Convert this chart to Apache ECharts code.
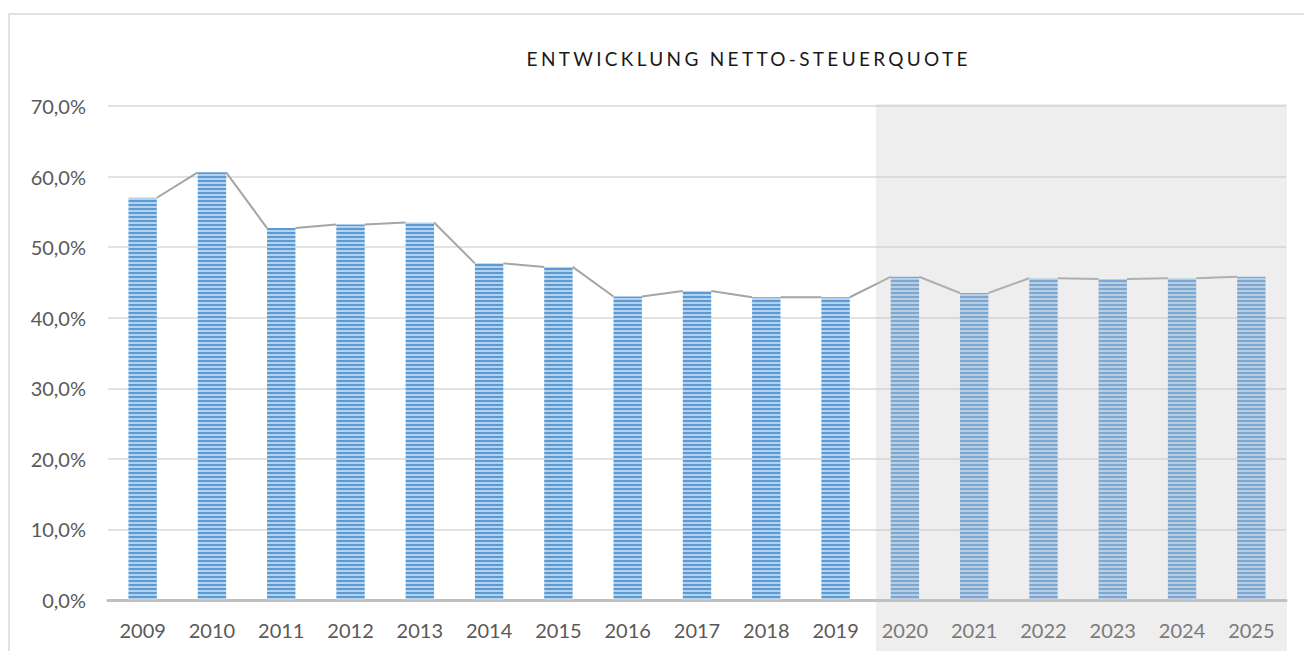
<!DOCTYPE html>
<html>
<head>
<meta charset="utf-8">
<script src="https://cdn.jsdelivr.net/npm/echarts@6/dist/echarts.min.js"></script>
<style>
html,body{margin:0;padding:0;background:#fff;}
#chart{width:1304px;height:651px;}
</style>
</head>
<body>
<div id="chart"></div>
<script>
const titleText = 'ENTWICKLUNG NETTO-STEUERQUOTE';
const years = ['2009','2010','2011','2012','2013','2014','2015','2016','2017','2018','2019','2020','2021','2022','2023','2024','2025'];
const quote = [57.0, 60.6, 52.7, 53.2, 53.5, 47.7, 47.2, 43.0, 43.8, 42.9, 42.9, 45.8, 43.5, 45.6, 45.5, 45.6, 45.8];
const yTicks = [0, 10, 20, 30, 40, 50, 60, 70];

const FONT = 'Lato';
const TITLE_SIZE = 19;
const TITLE_CENTER = 742;
const TITLE_WIDTH = 441;

// striped fill
const pc = document.createElement('canvas');
pc.width = 8; pc.height = 4;
const pctx = pc.getContext('2d');
pctx.fillStyle = '#5b9bd5'; pctx.fillRect(0,0,8,2);
pctx.fillStyle = '#b4d2ee'; pctx.fillRect(0,2,8,2);
const stripe = { image: pc.toDataURL(), repeat: 'repeat' };

const lineData = quote.slice(0, -1).map((v, i) => [i, v, quote[i + 1]]);

const mctx = document.createElement('canvas').getContext('2d');
mctx.font = TITLE_SIZE + 'px ' + FONT;
const naturalW = mctx.measureText(titleText).width;
const ls = Math.max(0, (TITLE_WIDTH - naturalW) / (titleText.length - 1));

const chart = echarts.init(document.getElementById('chart'), null, { renderer: 'svg' });

function spaceTitle() {
  document.querySelectorAll('#chart text').forEach(t => {
    if (t.textContent.trim() === titleText && !t.dataset.spaced) {
      t.dataset.spaced = '1';
      t.style.letterSpacing = ls.toFixed(2) + 'px';
      const x = parseFloat(t.getAttribute('x') || 0);
      t.setAttribute('x', (x - ls * (titleText.length - 1) / 2).toFixed(1));
    }
  });
}
chart.on('finished', spaceTitle);

chart.setOption({
  animation: false,
  backgroundColor: '#ffffff',
  title: {
    text: titleText,
    left: Math.round(TITLE_CENTER - naturalW / 2),
    top: 44,
    textAlign: 'left',
    textStyle: { fontFamily: FONT, fontSize: TITLE_SIZE, fontWeight: 'normal', color: '#1a1a1a' }
  },
  grid: { left: 108, right: 18, top: 106, bottom: 51, containLabel: false },
  xAxis: {
    type: 'category',
    data: years,
    axisLine: { lineStyle: { color: '#bfbfbf', width: 3 } },
    axisTick: { show: false },
    axisLabel: { fontFamily: FONT, fontSize: 20, color: '#595959', margin: 20 }
  },
  yAxis: {
    type: 'value',
    min: yTicks[0],
    max: yTicks[yTicks.length - 1],
    interval: 10,
    axisLine: { show: false },
    axisTick: { show: false },
    splitLine: { lineStyle: { color: '#d9d9d9', width: 1.5 } },
    axisLabel: {
      fontFamily: FONT, fontSize: 20, color: '#595959', margin: 22,
      formatter: v => v.toFixed(1).replace('.', ',') + '%'
    }
  },
  series: [
    {
      type: 'custom',
      data: lineData,
      z: 1,
      renderItem: function (params, api) {
        const i = api.value(0);
        const p1 = api.coord([i, api.value(1)]);
        const p2 = api.coord([i + 1, api.value(2)]);
        const bw = api.size([1, 0])[0] * 0.41;
        return {
          type: 'line',
          shape: { x1: p1[0] + bw / 2, y1: p1[1], x2: p2[0] - bw / 2, y2: p2[1] },
          style: { stroke: '#a5a5a5', lineWidth: 2 }
        };
      }
    },
    {
      type: 'bar',
      data: quote,
      barWidth: '41%',
      z: 2,
      itemStyle: { color: stripe }
    }
  ],
  graphic: [
    {
      type: 'rect',
      z: -1,
      shape: { x: 9, y: 14, width: 1400, height: 800 },
      style: { fill: 'none', stroke: '#d9d9d9', lineWidth: 1.5 }
    },
    {
      type: 'rect',
      z: 100,
      shape: { x: 876, y: 104, width: 411, height: 560 },
      style: { fill: 'rgba(200,200,200,0.3)' }
    }
  ]
});
spaceTitle();
setTimeout(spaceTitle, 30);
requestAnimationFrame(() => requestAnimationFrame(spaceTitle));
</script>
</body>
</html>
